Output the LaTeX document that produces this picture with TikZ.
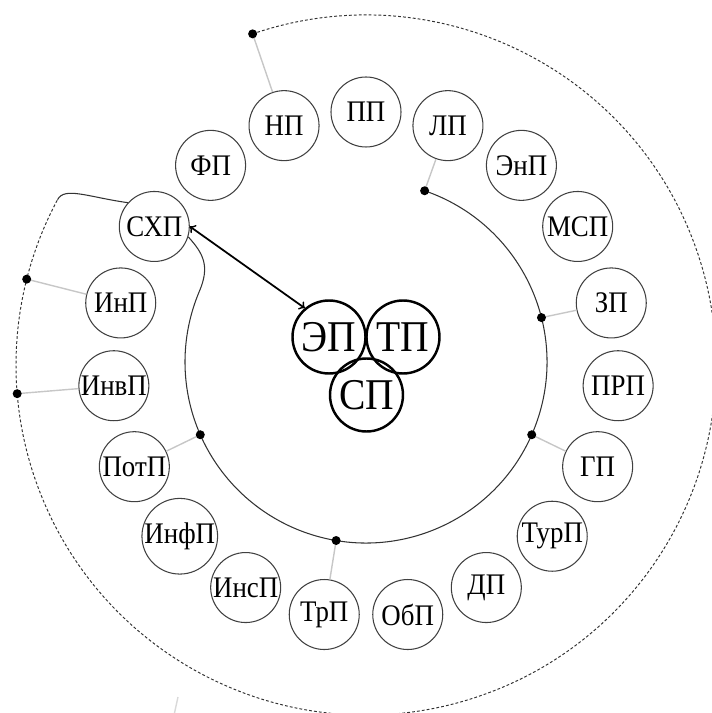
\documentclass[tikz,border=0pt]{standalone}
\usepackage{fontspec}
\setmainfont[FakeStretch=0.9]{Liberation Serif}
\tikzset{
  part/.style={draw=black!75, line width=0.6pt, circle, minimum size=1.4cm, inner sep=0pt, font=\fontsize{17}{19}\selectfont},
  core/.style={draw=black, line width=1.4pt, circle, minimum size=1.46cm, inner sep=0pt, font=\fontsize{25}{27}\selectfont},
  link/.style={black!22, line width=0.8pt},
  wire/.style={black!80, line width=0.6pt},
  outer/.style={black!80, line width=0.55pt, dash pattern=on 1.6pt off 1.2pt},
  dot/.style={fill=black}
}
\begin{document}
\begin{tikzpicture}
    \useasboundingbox (-7.32,-6.96) rectangle (6.92,7.30);
    % core
    \node[core] (ep) at (-0.74,0.56) {ЭП};
    \node[core] (tp) at (0.74,0.56) {ТП};
    \node[core] (sp) at (0.01,-0.60) {СП};
    % ring
    \node[part] (pp) at (90:5.06) {ПП};
    \node[part] (lp) at (71.1:5.06) {ЛП};
    \node[part] (enp) at (52.1:5.06) {ЭнП};
    \node[part] (msp) at (33.2:5.06) {МСП};
    \node[part] (zp) at (14.2:5.06) {ЗП};
    \node[part] (prp) at (-4.7:5.06) {ПРП};
    \node[part] (gp) at (-23.7:5.06) {ГП};
    \node[part] (turp) at (-42.6:5.06) {ТурП};
    \node[part] (dp) at (-61.6:5.06) {ДП};
    \node[part] (obp) at (-80.5:5.06) {ОбП};
    \node[part] (trp) at (-99.5:5.06) {ТрП};
    \node[part] (insp) at (-118.4:5.06) {ИнсП};
    \node[part] (infp) at (-137.4:5.06) {ИнфП};
    \node[part] (potp) at (-156.3:5.06) {ПотП};
    \node[part] (invp) at (-175.3:5.06) {ИнвП};
    \node[part] (inp) at (165.8:5.06) {ИнП};
    \node[part] (shp) at (146.8:5.06) {СХП};
    \node[part] (fp) at (127.9:5.06) {ФП};
    \node[part] (np) at (108.9:5.06) {НП};
    % inner arc
    \begin{scope}[yshift=0.06cm]
        \coordinate (ilp) at (71.1:3.62);
        \coordinate (izp) at (14.2:3.62);
        \coordinate (igp) at (-23.7:3.62);
        \coordinate (itrp) at (-99.5:3.62);
        \coordinate (ipotp) at (-156.3:3.62);
        \draw[wire] (ilp) arc[start angle=71.1, end angle=-203, radius=3.62] coordinate (iend);
    \end{scope}
    \draw[wire] (iend) .. controls +(67:0.55) and +(-48:0.45) .. (shp.-17);
    % outer arc
    \coordinate (onp) at (108.9:7);
    \coordinate (oinp) at (165.8:7);
    \coordinate (oinvp) at (184.7:7);
    \draw[outer] (onp) arc[start angle=108.9, end angle=-208.2, radius=7] coordinate (oend);
    \draw[wire] (oend) .. controls +(62:0.3) and +(172:0.8) .. (shp.138);
    % links
    \draw[link] (ilp) -- (lp);
    \draw[link] (izp) -- (zp);
    \draw[link] (igp) -- (gp);
    \draw[link] (itrp) -- (trp);
    \draw[link] (ipotp) -- (potp);
    \draw[link] (onp) -- (np);
    \draw[link] (oinp) -- (inp);
    \draw[link] (oinvp) -- (invp);
    \foreach \d in {ilp,izp,igp,itrp,ipotp,onp,oinp,oinvp}
        \fill[dot] (\d) circle (0.09);
    % arrow
    \draw[<->, line width=1pt] (shp.east) -- (ep.130);
    \draw[black!15, line width=0.8pt] (-3.76,-6.64) -- (-3.83,-6.96);
\end{tikzpicture}
\end{document}
